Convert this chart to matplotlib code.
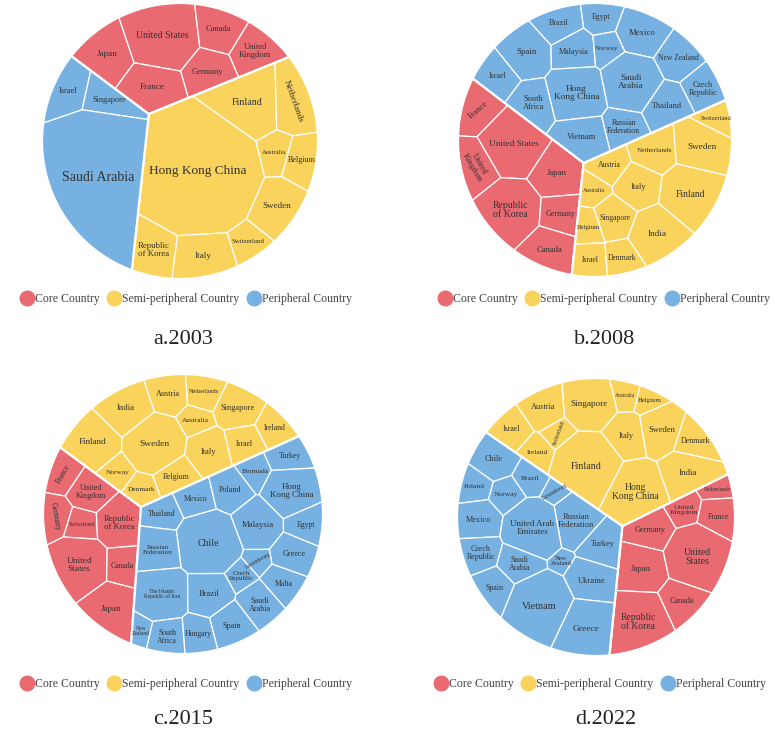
import numpy as np
import matplotlib
matplotlib.use('Agg')
import matplotlib.pyplot as plt
from matplotlib.patches import Polygon
from matplotlib.lines import Line2D

W_PX, H_PX = 775, 741
PX = 100 / 72.0
FONT = 'Liberation Serif'

group_names = ['Core Country', 'Semi-peripheral Country', 'Peripheral Country']
group_colors = ['#EA6A72', '#F9D35B', '#76B1E1']

# ---- 2003 ----
countries_2003 = ['Japan', 'United States', 'Canada', 'United Kingdom', 'Germany', 'France',
                  'Israel', 'Singapore', 'Saudi Arabia',
                  'Hong Kong China', 'Finland', 'Netherlands', 'Australia', 'Belgium',
                  'Sweden', 'Switzerland', 'Italy', 'Republic of Korea']
group_2003 = [0] * 6 + [2] * 3 + [1] * 9
value_2003 = [4, 7, 3, 3, 3, 4,
              3, 2.5, 20,
              22, 6, 4, 2, 2.5, 4, 2, 4, 3.5]

# ---- 2008 ----
countries_2008 = ['Brazil', 'Egypt', 'Mexico', 'Spain', 'Malaysia', 'Norway', 'New Zealand',
                  'Israel', 'Hong Kong China', 'Saudi Arabia', 'Czech Republic', 'South Africa',
                  'Thailand', 'Russian Federation', 'Vietnam',
                  'France', 'United States', 'United Kingdom', 'Japan', 'Republic of Korea',
                  'Germany', 'Canada',
                  'Switzerland', 'Sweden', 'Netherlands', 'Austria', 'Italy', 'Australia',
                  'Finland', 'Singapore', 'Belgium', 'India', 'Israel', 'Denmark']
group_2008 = [2] * 15 + [0] * 7 + [1] * 12
value_2008 = [2.5, 2, 3.5, 4, 2.5, 1.5, 3, 2.5, 5, 5, 2.5, 3, 3, 2.5, 3.5,
              3, 6, 3, 4, 6, 2.5, 3.5,
              1.5, 4.5, 3, 2, 3, 1.5, 5.5, 2.5, 1.5, 4.5, 2, 2]

# ---- 2015 ----
countries_2015 = ['India', 'Austria', 'Netherlands', 'Singapore', 'Australia', 'Finland',
                  'Sweden', 'Ireland', 'Italy', 'Israel', 'Norway', 'Belgium', 'Denmark',
                  'France', 'United Kingdom', 'Germany', 'Switzerland', 'Republic of Korea',
                  'United States', 'Canada', 'Japan',
                  'Turkey', 'Bermuda', 'Mexico', 'Poland', 'Hong Kong China', 'Egypt',
                  'Thailand', 'Chile', 'Russian Federation', 'Malaysia', 'Greece',
                  'Czech Republic', 'Luxembourg', 'Malta', 'The Islamic Republic of Iran',
                  'Brazil', 'Saudi Arabia', 'Spain', 'Hungary', 'South Africa', 'New Zealand']
group_2015 = [1] * 13 + [0] * 8 + [2] * 21
value_2015 = [3.5, 2.5, 2, 3, 1.5, 4, 5, 2, 3, 2, 1.5, 2, 1.5,
              2, 2.5, 2, 1.5, 3.5, 5, 2, 4,
              2, 1.5, 2, 2.5, 4, 2, 2, 6, 3, 3.5, 2.5, 1.2, 1, 2, 4.5,
              3, 2.5, 2.5, 2, 2, 1]

# ---- 2022 ----
countries_2022 = ['Australia', 'Belgium', 'Singapore', 'Austria', 'Israel', 'Italy', 'Sweden',
                  'Ireland', 'Switzerland', 'Denmark', 'Finland', 'India', 'Hong Kong China',
                  'Netherlands', 'United Kingdom', 'France', 'Germany', 'Japan',
                  'United States', 'Canada', 'Republic of Korea',
                  'Chile', 'Brazil', 'Poland', 'Norway', 'Luxembourg', 'Russian Federation',
                  'Mexico', 'United Arab Emirates', 'Turkey', 'Czech Republic', 'New Zealand',
                  'Saudi Arabia', 'Ukraine', 'Spain', 'Vietnam', 'Greece']
group_2022 = [1] * 13 + [0] * 8 + [2] * 16
value_2022 = [1.2, 1, 4, 2.5, 2, 2.5, 3, 1.5, 1, 2, 6, 3.5, 5,
              1, 1.5, 2, 2.5, 3.5, 5.5, 2.5, 5,
              2.5, 1.5, 1.5, 1.5, 0.8, 3, 2.5, 4.5, 2.5, 2, 0.8, 2, 3, 2, 6, 4.5]

# ---- layout: starting sites (unit circle) for the voronoi treemap ----
seed_2003 = [(-0.57, 0.60), (-0.12, 0.71), (0.28, 0.80), (0.58, 0.65), (0.23, 0.47), (-0.22, 0.33),
             (-0.82, 0.33), (-0.53, 0.25), (-0.60, -0.22),
             (0.17, -0.20), (0.50, 0.30), (0.86, 0.26), (0.72, -0.01), (0.83, -0.23),
             (0.70, -0.48), (0.55, -0.70), (0.23, -0.81), (-0.13, -0.82)]
seed_2008 = [(-0.27, 0.89), (0.02, 0.91), (0.33, 0.81), (-0.47, 0.67), (-0.15, 0.72), (0.09, 0.69),
             (0.61, 0.65), (-0.72, 0.49), (-0.12, 0.42), (0.26, 0.44), (0.79, 0.46), (-0.47, 0.31),
             (0.54, 0.30), (0.22, 0.16), (-0.09, 0.08),
             (-0.85, 0.23), (-0.63, 0.0), (-0.90, -0.22), (-0.28, -0.21), (-0.64, -0.53),
             (-0.26, -0.55), (-0.36, -0.83),
             (0.84, 0.24), (0.74, 0.01), (0.37, -0.03), (0.06, -0.13), (0.27, -0.32), (-0.03, -0.32),
             (0.66, -0.38), (0.16, -0.52), (-0.05, -0.63), (0.45, -0.68), (-0.05, -0.86), (0.20, -0.85)]
seed_2015 = [(-0.39, 0.76), (-0.07, 0.84), (0.19, 0.84), (0.42, 0.68), (0.14, 0.62), (-0.61, 0.51),
             (-0.18, 0.47), (0.71, 0.54), (0.25, 0.39), (0.50, 0.43), (-0.43, 0.25), (-0.01, 0.19),
             (-0.27, 0.12),
             (-0.86, 0.24), (-0.66, 0.11), (-0.91, -0.07), (-0.72, -0.11), (-0.42, -0.13),
             (-0.70, -0.40), (-0.36, -0.46), (-0.46, -0.74),
             (0.78, 0.34), (0.54, 0.27), (0.11, 0.06), (0.37, 0.11), (0.72, 0.08), (0.80, -0.10),
             (-0.07, -0.02), (0.21, -0.24), (-0.11, -0.26), (0.55, -0.24), (0.84, -0.30),
             (0.48, -0.49), (0.64, -0.41), (0.75, -0.51), (-0.07, -0.63), (0.26, -0.61),
             (0.60, -0.67), (0.42, -0.81), (0.21, -0.89), (-0.04, -0.93), (-0.24, -0.91)]
seed_2022 = [(0.21, 0.91), (0.35, 0.86), (-0.07, 0.82), (-0.40, 0.76), (-0.64, 0.65), (0.22, 0.63),
             (0.48, 0.66), (-0.50, 0.53), (-0.38, 0.50), (0.71, 0.55), (-0.07, 0.40), (0.72, 0.35),
             (0.30, 0.23),
             (0.89, 0.20), (0.70, 0.07), (0.91, 0.0), (0.49, -0.04), (0.32, -0.27), (0.73, -0.30),
             (0.68, -0.63), (0.31, -0.71),
             (-0.71, 0.40), (-0.48, 0.30), (-0.86, 0.24), (-0.59, 0.17), (-0.38, 0.19),
             (-0.19, 0.06), (-0.83, 0.06), (-0.48, -0.12), (0.04, -0.17), (-0.91, -0.16),
             (-0.24, -0.27), (-0.69, -0.31), (-0.06, -0.45), (-0.81, -0.48), (-0.48, -0.57),
             (-0.07, -0.81)]

# rotated labels
rot_2003 = {'Netherlands': -70}
rot_2008 = {'France': 40, 'United Kingdom': -60}
rot_2015 = {'France': 60, 'Germany': -80, 'Luxembourg': 30}
rot_2022 = {'Switzerland': 70, 'Luxembourg': 30}

# panel placement in pixels: centre x, centre y, radius, legend centre x, legend y, caption x, caption y
panels = [
    ('a.2003', countries_2003, group_2003, value_2003, seed_2003, rot_2003, (180, 141, 138, 186, 299, 183, 340)),
    ('b.2008', countries_2008, group_2008, value_2008, seed_2008, rot_2008, (595, 140, 137, 604, 299, 605, 340)),
    ('c.2015', countries_2015, group_2015, value_2015, seed_2015, rot_2015, (183, 514, 140, 186, 684, 183, 720)),
    ('d.2022', countries_2022, group_2022, value_2022, seed_2022, rot_2022, (596, 517, 139, 600, 684, 606, 720)),
]


# ---------- power diagram helpers ----------
def clip(poly, a, b):
    d = poly @ a - b
    ins = d <= 0
    if ins.all():
        return poly
    if not ins.any():
        return poly[:0]
    nxt = np.roll(poly, -1, axis=0)
    dn = np.roll(d, -1)
    cross = ins != np.roll(ins, -1)
    den = np.where(cross, d - dn, 1.0)
    t = np.where(cross, d / den, 0.0)
    ip = poly + t[:, None] * (nxt - poly)
    pts = np.stack([poly, ip], axis=1)
    mask = np.stack([ins, cross], axis=1)
    return pts[mask]


def power_cells(region, P, W):
    sq = (P ** 2).sum(1)
    cells = []
    for i in range(len(P)):
        poly = region
        for j in range(len(P)):
            if j == i:
                continue
            poly = clip(poly, 2 * (P[j] - P[i]), sq[j] - sq[i] - W[j] + W[i])
            if len(poly) == 0:
                break
        cells.append(poly)
    return cells


def area_centroid(poly):
    if len(poly) < 3:
        return 0.0, None
    x, y = poly[:, 0], poly[:, 1]
    xn, yn = np.roll(x, -1), np.roll(y, -1)
    c = x * yn - xn * y
    A = c.sum() / 2
    if abs(A) < 1e-12:
        return 0.0, poly.mean(0)
    return abs(A), np.array([((x + xn) * c).sum() / (6 * A), ((y + yn) * c).sum() / (6 * A)])


def inside(poly, p):
    e = np.roll(poly, -1, axis=0) - poly
    v = p - poly
    return np.all(e[:, 0] * v[:, 1] - e[:, 1] * v[:, 0] >= 0)


def fix_overweight(P, W):
    D2 = ((P[:, None, :] - P[None, :, :]) ** 2).sum(-1)
    for _ in range(200):
        over = W[:, None] - W[None, :] - D2
        np.fill_diagonal(over, -np.inf)
        m = over.max(1)
        if (m <= 0).all():
            break
        W = np.where(m > 0, W - m - 1e-9, W)
    return np.maximum(W, 1e-9)


def voronoi_map(region, seeds, values, iters=120):
    P = np.array(seeds, float)
    n = len(P)
    if n == 1:
        return [region], P
    total, cen = area_centroid(region)
    for i in range(n):
        k = 0
        while not inside(region, P[i]) and k < 60:
            P[i] = cen + 0.9 * (P[i] - cen)
            k += 1
    v = np.array(values, float)
    T = v / v.sum() * total
    W = np.full(n, total / n / 2)
    W = fix_overweight(P, W)
    for it in range(iters):
        cells = power_cells(region, P, W)
        for i, c in enumerate(cells):
            a, cc = area_centroid(c)
            if a > 0:
                P[i] = cc
        W = fix_overweight(P, W)
        cells = power_cells(region, P, W)
        A = np.array([area_centroid(c)[0] for c in cells])
        err = np.abs(A - T).sum() / total
        if err < 0.004:
            break
        ratio = np.clip(T / np.maximum(A, 1e-9), 0.75, 1.33)
        W = fix_overweight(P, W * ratio)
    cells = power_cells(region, P, W)
    return cells, P


def fit_label(name, poly, r_px, rot):
    A = area_centroid(poly)[0] * r_px ** 2
    th = np.deg2rad(rot)
    d = np.array([np.cos(th), np.sin(th)])
    nrm = np.array([-np.sin(th), np.cos(th)])
    w = np.ptp(poly @ d) * r_px
    h = np.ptp(poly @ nrm) * r_px
    base = 3.5 + 0.062 * np.sqrt(A)
    words = name.split(' ')
    opts = [name] + [' '.join(words[:k]) + '\n' + ' '.join(words[k:]) for k in range(1, len(words))]
    best = None
    for o in opts:
        lines = o.split('\n')
        nch = max(len(s) for s in lines)
        fs = min(base, 0.74 * w / (0.47 * nch * PX), 0.7 * h / (1.2 * len(lines) * PX))
        if best is None:
            best = (o, fs)
            if fs >= 8.5:  # big cells keep the name on one line
                break
        elif fs > best[1] * 1.1:  # a line break has to pay off
            best = (o, fs)
    return best[0], max(best[1], 4.0)


theta = np.linspace(0, 2 * np.pi, 241)[:-1]
circle = np.column_stack([np.cos(theta), np.sin(theta)])

fig = plt.figure(figsize=(W_PX / 100, H_PX / 100), dpi=100)
fig.patch.set_facecolor('white')

for caption, names, groups, values, seeds, rots, geo in panels:
    cx, cy, r, lx, ly, tx, ty = geo
    ax = fig.add_axes([(cx - r) / W_PX, 1 - (cy + r) / H_PX, 2 * r / W_PX, 2 * r / H_PX])
    ax.set_xlim(-1, 1)
    ax.set_ylim(-1, 1)
    ax.axis('off')

    groups = np.array(groups)
    values = np.array(values, float)
    seeds = np.array(seeds, float)
    gids = [g for g in range(3) if (groups == g).any()]
    gvals = [values[groups == g].sum() for g in gids]
    gseeds = [(seeds[groups == g] * values[groups == g][:, None]).sum(0) / values[groups == g].sum()
              for g in gids]
    gcells, _ = voronoi_map(circle, gseeds, gvals, iters=150)

    for gi, g in enumerate(gids):
        idx = np.where(groups == g)[0]
        cells, _ = voronoi_map(gcells[gi], seeds[idx], values[idx], iters=120)
        for k, c in zip(idx, cells):
            if len(c) < 3:
                continue
            ax.add_patch(Polygon(c, closed=True, facecolor=group_colors[g],
                                 edgecolor='white', linewidth=0.9))
            a, cc = area_centroid(c)
            rot = rots.get(names[k], 0)
            label, fs = fit_label(names[k], c, r, rot)
            ax.text(cc[0], cc[1], label, ha='center', va='center', fontsize=fs,
                    rotation=rot, family=FONT, color='#333333', linespacing=1.0)
        ax.add_patch(Polygon(gcells[gi], closed=True, facecolor='none',
                             edgecolor='white', linewidth=1.6))

    handles = [Line2D([], [], marker='o', linestyle='', markersize=10.5,
                      markerfacecolor=col, markeredgecolor=col) for col in group_colors]
    fig.legend(handles, group_names, loc='center', bbox_to_anchor=(lx / W_PX, 1 - ly / H_PX),
               ncol=3, frameon=False, handletextpad=0.1, columnspacing=0.6, handlelength=1.2,
               prop={'family': FONT, 'size': 8.5}, labelcolor='#444444')
    fig.text(tx / W_PX, 1 - ty / H_PX, caption, ha='center', va='center',
             fontsize=16, family=FONT, color='#222222')

fig.savefig('out.png', dpi=100)
